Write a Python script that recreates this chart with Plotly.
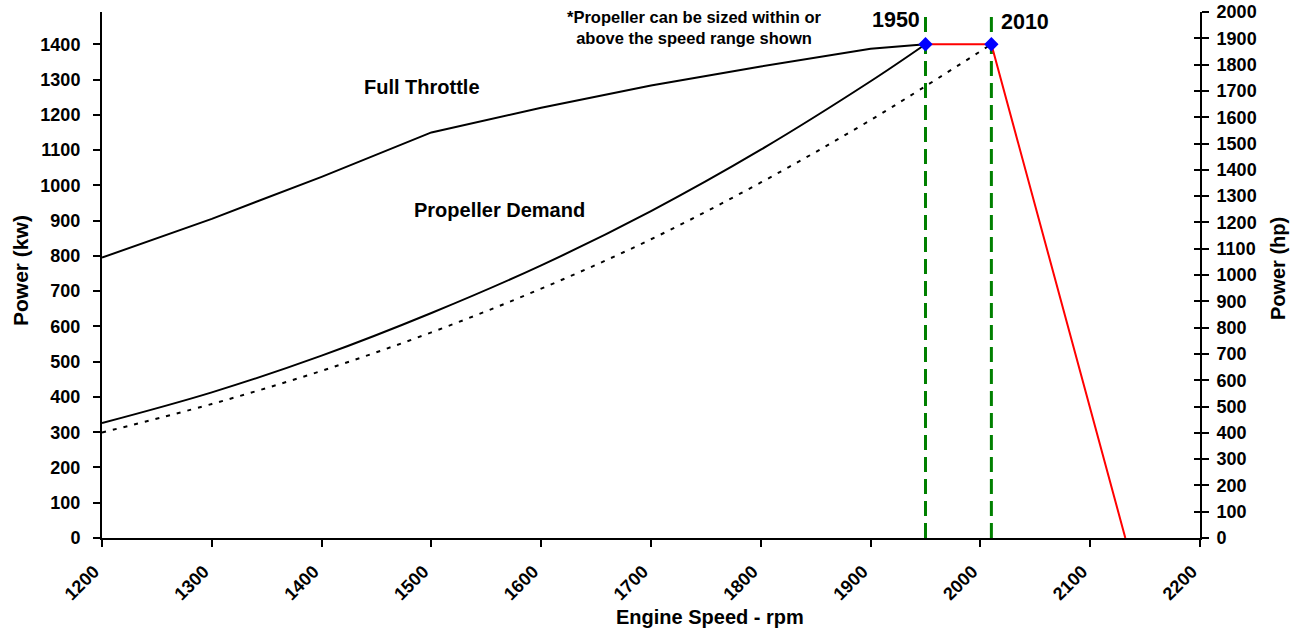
import plotly.graph_objects as go

# ---- data ----
rpm_full = [1200, 1300, 1400, 1500, 1600, 1700, 1800, 1900, 1950]
kw_full = [795, 905, 1024, 1150, 1220, 1283, 1337, 1387, 1400]

rpm_prop = [1200, 1300, 1400, 1500, 1600, 1700, 1800, 1900, 1950]
kw_prop = [326, 413, 517, 638, 773, 927, 1101, 1295, 1400]

rpm_dot = [1200, 1300, 1400, 1500, 1600, 1700, 1800, 1900, 2010]
kw_dot = [299, 380, 474, 583, 707, 847, 1008, 1185, 1400]

rpm_red = [1950, 2010, 2132]
kw_red = [1400, 1400, 0]

rpm_marks = [1950, 2010]
kw_marks = [1400, 1400]

rpm_vlines = [1950, 2010]

x_ticks = list(range(1200, 2201, 100))
kw_ticks = list(range(0, 1401, 100))
hp_ticks = list(range(0, 2001, 100))

kw_max = 1491.4
hp_max = 2000

FONT = "Liberation Sans"


def bold(size):
    return dict(family=FONT, size=size, color="black", weight="bold")


fig = go.Figure()
fig.add_trace(go.Scatter(x=rpm_full, y=kw_full, mode="lines",
                         line=dict(color="black", width=2), hoverinfo="skip"))
fig.add_trace(go.Scatter(x=rpm_prop, y=kw_prop, mode="lines", line_shape="spline",
                         line=dict(color="black", width=2), hoverinfo="skip"))
fig.add_trace(go.Scatter(x=rpm_dot, y=kw_dot, mode="lines", line_shape="spline",
                         line=dict(color="black", width=2, dash="4px,7px"), hoverinfo="skip"))
for xv in rpm_vlines:
    fig.add_trace(go.Scatter(x=[xv, xv], y=[0, kw_max], mode="lines",
                             line=dict(color="#008000", width=3, dash="15px,7px"),
                             hoverinfo="skip"))
fig.add_trace(go.Scatter(x=rpm_red, y=kw_red, mode="lines",
                         line=dict(color="#FF0000", width=2), hoverinfo="skip"))
fig.add_trace(go.Scatter(x=rpm_marks, y=kw_marks, mode="markers",
                         marker=dict(symbol="diamond", size=11, color="#0000FF"),
                         hoverinfo="skip"))
# dummy traces so right-hand axes render
fig.add_trace(go.Scatter(x=[1200], y=[0], yaxis="y2", mode="markers",
                         marker=dict(opacity=0), hoverinfo="skip"))
fig.add_trace(go.Scatter(x=[1200], y=[0], yaxis="y3", mode="markers",
                         marker=dict(opacity=0), hoverinfo="skip"))

axis_common = dict(showgrid=False, zeroline=False, showline=True, linecolor="black",
                   linewidth=2, ticks="outside", tickcolor="black", tickwidth=2,
                   ticklen=7, tickfont=bold(18), automargin=False,
                   ticklabeloverflow="allow")

fig.update_layout(
    width=1296, height=631,
    margin=dict(l=102, r=96, t=12, b=93),
    paper_bgcolor="white", plot_bgcolor="white",
    showlegend=False,
    xaxis=dict(range=[1200, 2200], tickvals=x_ticks, tickangle=-45,
               ticklabelstandoff=7, ticklabelshift=-8, **axis_common),
    yaxis=dict(range=[0, kw_max], tickvals=kw_ticks, ticklabelstandoff=9, **axis_common),
    yaxis2=dict(range=[0, hp_max], tickvals=hp_ticks, overlaying="y",
                side="right", anchor="x", ticklabelstandoff=4, **axis_common),
    yaxis3=dict(range=[0, hp_max], tickvals=hp_ticks, overlaying="y",
                side="right", anchor="x", showgrid=False, zeroline=False, showline=False,
                ticks="inside", tickcolor="black", tickwidth=2, ticklen=6,
                showticklabels=False, automargin=False),
)

ann = [
    dict(text="Full Throttle", x=1491, y=0.857, xref="x", yref="paper", font=bold(20)),
    dict(text="Propeller Demand", x=1562, y=0.624, xref="x", yref="paper", font=bold(20)),
    dict(text="*Propeller can be sized within or<br>above the speed range shown",
         x=1740, y=0.971, xref="x", yref="paper", font=bold(16.5)),
    dict(text="1950", x=1923, y=0.985, xref="x", yref="paper", font=bold(21.5)),
    dict(text="2010", x=2041, y=0.981, xref="x", yref="paper", font=bold(21.5)),
    dict(text="Engine Speed - rpm", x=0.5537, y=-0.150, xref="paper", yref="paper",
         font=bold(20)),
    dict(text="Power (kw)", x=-0.0747, y=0.5095, xref="paper", yref="paper", textangle=-90,
         font=bold(21)),
    dict(text="Power (hp)", x=1.071, y=0.513, xref="paper", yref="paper", textangle=-90,
         font=bold(20)),
]
for a in ann:
    fig.add_annotation(showarrow=False, xanchor="center", yanchor="middle", **a)

# remove the page's default 8px body margin so the figure fills the window exactly
fig.write_html("out.html", config={"displayModeBar": False},
               post_script="document.body.style.margin='0px';")
